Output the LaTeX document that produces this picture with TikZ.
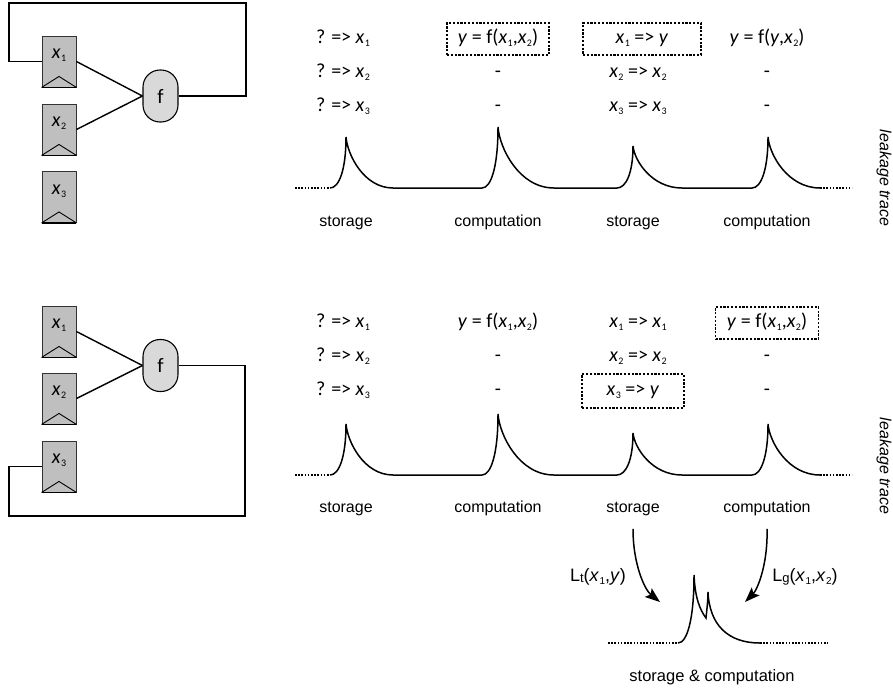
\documentclass[tikz,border=0pt]{standalone}
\usepackage{fontspec}
\setmainfont{Carlito}
\newfontfamily\arialf{Liberation Sans}
\usetikzlibrary{arrows.meta}
\definecolor{regfill}{HTML}{BFBFBF}
\definecolor{ffill}{HTML}{D9D9D9}
\newcommand{\vx}[1]{\textit{x}\kern0.02em\raisebox{-0.3ex}{\fontsize{10}{10}\selectfont #1}}
\newcommand{\vy}{\textit{y}}
\tikzset{
  reg/.style={draw=black!80, fill=regfill, line width=0.9pt, minimum width=34pt, minimum height=51pt, inner sep=0pt},
  regtxt/.style={font=\fontsize{20}{22}\selectfont, inner sep=0pt},
  fnode/.style={draw=black, fill=ffill, line width=1.1pt, rounded corners=17pt, minimum width=35pt, minimum height=52pt, inner sep=0pt, font=\fontsize{20.5}{22}\selectfont},
  wire/.style={line width=1.4pt},
  tbl/.style={font=\fontsize{20}{22}\selectfont, inner sep=0pt, text height=13pt, text depth=4pt},
  dbox/.style={tbl, draw, line width=1.2pt, dash pattern=on 2.2pt off 1.6pt, minimum height=32pt},
  lbl/.style={font=\arialf\fontsize{16}{19}\selectfont, inner sep=0pt, text height=12pt, text depth=3.5pt},
  waveline/.style={line width=1.5pt},
  dotline/.style={line width=1.5pt, dash pattern=on 1.6pt off 1.6pt},
  arr/.style={line width=1.5pt, -{Stealth[length=15pt,width=11pt,inset=3pt]}},
  trace/.pic={
    \draw[dotline] (295,0) -- (330,0);
    \draw[waveline] (330,0)
      .. controls (339,0) and (346,-18) .. (346,-51)
      .. controls (347.5,-33) and (364,0) .. (393,0) -- (482,0)
      .. controls (491,0) and (498,-21) .. (498,-61)
      .. controls (499.5,-40) and (519,0) .. (554,0) -- (617,0)
      .. controls (626,0) and (633,-15) .. (633,-42)
      .. controls (634.5,-27) and (652,0) .. (682,0) -- (752,0)
      .. controls (761,0) and (768,-18) .. (768,-51)
      .. controls (769.5,-33) and (788,0) .. (820,0);
    \draw[dotline] (820,0) -- (852,0);
  }
}
\begin{document}
\begin{tikzpicture}[x=1pt,y=-1pt]
\useasboundingbox (0,0) rectangle (893,691);

% ---------- top circuit ----------
\node[reg] (r1) at (59,61.5) {};
\node[reg] (r2) at (59,129.5) {};
\node[reg] (r3) at (59,197) {};
\foreach \r/\i in {r1/1,r2/2,r3/3}{
  \draw[line width=0.9pt] (\r.south west) -- ([yshift=11pt]\r.south) -- (\r.south east);
  \draw[line width=1.8pt] (\r.south west) -- (\r.south east);
  \node[regtxt] (\r t) at ([yshift=6pt]\r.center) {\vx{\i}};
}
\node[fnode] (f1) at (160.5,96) {f};
\draw[wire] (r1.east) -- (f1.west);
\draw[wire] (r2.east) -- (f1.west);
\coordinate (tr) at (246,3);
\coordinate (tl) at (9,3);
\draw[wire] (f1.east) -| (tr) -| (tl) |- (r1.west);

% ---------- bottom circuit ----------
\node[reg] (s1) at (59,331.5) {};
\node[reg] (s2) at (59,398.5) {};
\node[reg] (s3) at (59,466.5) {};
\foreach \r/\i in {s1/1,s2/2,s3/3}{
  \draw[line width=0.9pt] (\r.south west) -- ([yshift=11pt]\r.south) -- (\r.south east);
  \draw[line width=1.8pt] (\r.south west) -- (\r.south east);
  \node[regtxt] (\r t) at ([yshift=6pt]\r.center) {\vx{\i}};
}
\node[fnode] (f2) at (160.5,365.5) {f};
\draw[wire] (s1.east) -- (f2.west);
\draw[wire] (s2.east) -- (f2.west);
\coordinate (br) at (245,516);
\coordinate (bl) at (9,516);
\draw[wire] (f2.east) -| (br) -| (bl) |- (s3.west);

% ---------- top table ----------
\node[tbl] (t11) at (343,39) {? => \vx1};
\node[dbox, minimum width=102pt] (t12) at (498,39) {\vy{} = f(\vx1,\vx2)};
\node[dbox, minimum width=118pt] (t13) at (642,39) {\vx1 => \vy};
\node[tbl] (t14) at (767,39) {\vy{} = f(\vy,\vx2)};
\node[tbl] (t21) at (343,73) {? => \vx2};
\node[tbl] (t22) at (498,73) {-};
\node[tbl] (t23) at (638,73) {\vx2 => \vx2};
\node[tbl] (t24) at (767,73) {-};
\node[tbl] (t31) at (343,107) {? => \vx3};
\node[tbl] (t32) at (498,107) {-};
\node[tbl] (t33) at (638,107) {\vx3 => \vx3};
\node[tbl] (t34) at (767,107) {-};

\pic at (0,188) {trace};
\node[lbl] (l11) at (346,222) {storage};
\node[lbl] (l12) at (498,222) {computation};
\node[lbl] (l13) at (633,222) {storage};
\node[lbl] (l14) at (767,222) {computation};
\node[lbl, font=\arialf\itshape\fontsize{16}{19}\selectfont, rotate=-90] (lk1) at (884,178) {leakage trace};

% ---------- bottom table ----------
\node[tbl] (b11) at (343,323) {? => \vx1};
\node[tbl] (b12) at (498,323) {\vy{} = f(\vx1,\vx2)};
\node[tbl] (b13) at (638,323) {\vx1 => \vx1};
\node[dbox, minimum width=103pt] (b14) at (767,323) {\vy{} = f(\vx1,\vx2)};
\node[tbl] (b21) at (343,357) {? => \vx2};
\node[tbl] (b22) at (498,357) {-};
\node[tbl] (b23) at (638,357) {\vx2 => \vx2};
\node[tbl] (b24) at (767,357) {-};
\node[tbl] (b31) at (343,391) {? => \vx3};
\node[tbl] (b32) at (498,391) {-};
\node[dbox, minimum width=102pt, minimum height=34pt] (b33) at (633,391) {\vx3 => \vy};
\node[tbl] (b34) at (767,391) {-};

\pic at (0,475) {trace};
\node[lbl] (l21) at (346,508) {storage};
\node[lbl] (l22) at (498,508) {computation};
\node[lbl] (l23) at (633,508) {storage};
\node[lbl] (l24) at (767,508) {computation};
\node[lbl, font=\arialf\itshape\fontsize{16}{19}\selectfont, rotate=-90] (lk2) at (884,466) {leakage trace};

% ---------- merged trace ----------
\draw[dotline] (608,643) -- (678,643);
\draw[waveline] (678,643)
  .. controls (687,643) and (694,620) .. (694,575)
  .. controls (695,598) and (700,610) .. (706,618)
  .. controls (707,608) and (708,600) .. (708,592)
  .. controls (709.5,625) and (728,643) .. (760,643);
\draw[dotline] (760,643) -- (828,643);
\node[lbl, font=\arialf\fontsize{16.5}{19}\selectfont] (sc) at (712,677) {storage \& computation};

\coordinate (a1e) at (660,602);
\coordinate (a2e) at (745,602);
\draw[arr] ([yshift=-13pt]l23.south) .. controls (633,565) and (645,590) .. (a1e);
\draw[arr] ([yshift=-13pt]l24.south) .. controls (768,565) and (757,590) .. (a2e);

\node[lbl, font=\arialf\fontsize{18}{20}\selectfont] (lt) at (598,577) {L\raisebox{-0.1ex}{\fontsize{13}{13}\selectfont t}(\vx1,\vy)};
\node[lbl, font=\arialf\fontsize{18}{20}\selectfont] (lg) at (805,577) {L\raisebox{-0.1ex}{\fontsize{13}{13}\selectfont g}(\vx1,\vx2)};
\end{tikzpicture}
\end{document}
